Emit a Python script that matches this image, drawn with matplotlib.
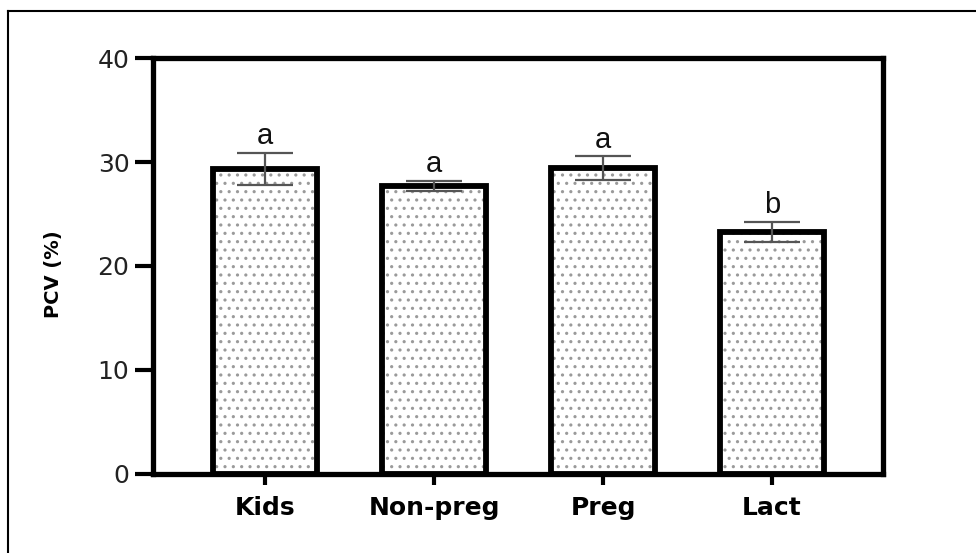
import numpy as np
import matplotlib.pyplot as plt
from matplotlib.lines import Line2D

plt.rcParams['font.family'] = ['DejaVu Sans']
plt.rcParams['hatch.linewidth'] = 1.1

# data
groups = ['Kids', 'Non-preg', 'Preg', 'Lact']
pcv_mean = [29.35, 27.7, 29.4, 23.3]
pcv_err = [1.55, 0.5, 1.15, 0.95]
letters = ['a', 'a', 'a', 'b']

x = np.arange(len(groups))

fig = plt.figure(figsize=(9.76, 5.53), dpi=100)
ax = fig.add_axes([0.1568, 0.1429, 0.7479, 0.7522])

# dotted fill, then thick black outline
ax.bar(x, pcv_mean, width=0.62, color='white', edgecolor='#9a9a9a',
       hatch='..', linewidth=0, zorder=2)
ax.bar(x, pcv_mean, width=0.62, fill=False, edgecolor='black',
       linewidth=4.2, zorder=3)

ax.errorbar(x, pcv_mean, yerr=pcv_err, fmt='none', ecolor='#555555',
            elinewidth=1.6, capsize=20, capthick=1.6, zorder=4)

for xi, m, e, t in zip(x, pcv_mean, pcv_err, letters):
    ax.text(xi, m + e + 0.25, t, ha='center', va='bottom', fontsize=21,
            color='#111111', family='Liberation Sans')

ax.set_xlim(-0.663, 3.657)
ax.set_ylim(0, 40)
ax.set_yticks([0, 10, 20, 30, 40])
ax.set_xticks(x)
ax.set_xticklabels(groups, fontsize=18, fontweight='bold')
ax.tick_params(axis='y', length=13, width=3, labelsize=18, pad=4,
               labelcolor='#222222')
ax.tick_params(axis='x', length=8, width=3, pad=8)

for s in ax.spines.values():
    s.set_linewidth(3.8)

ax.set_ylabel('PCV (%)', fontsize=14, fontweight='bold')
ax.yaxis.set_label_coords(-0.124, 0.48)

# frame lines of the original image
fig.add_artist(Line2D([8/976, 8/976], [0, 1 - 11/553], color='black', lw=1.5))
fig.add_artist(Line2D([8/976, 1], [1 - 11/553, 1 - 11/553], color='black', lw=1.5))

fig.savefig('out.png', dpi=100)
